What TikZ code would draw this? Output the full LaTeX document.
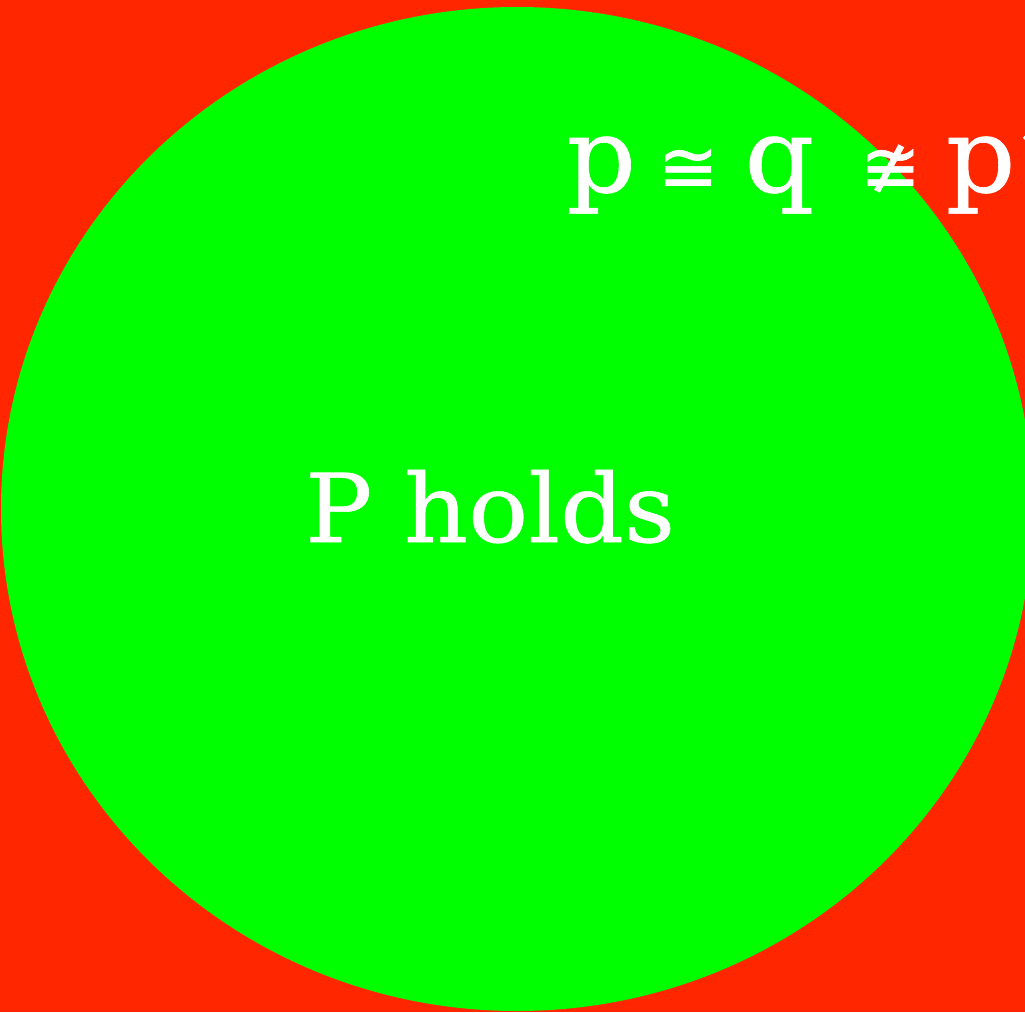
\documentclass[tikz,border=0pt]{standalone}
\usepackage{fontspec}
\setmainfont{DejaVu Serif}[FakeStretch=1.05,FakeBold=0.6]
\newfontfamily\symfont{DejaVu Sans}[FakeBold=0.8]
\usetikzlibrary{positioning}
\definecolor{bgred}{HTML}{FF2600}
\definecolor{disc}{HTML}{00FF00}
\tikzset{
  caption/.style={text=white,inner sep=0pt,anchor=base west}
}
\newcommand{\relsym}[1]{{\symfont\fontsize{72}{72}\selectfont #1}}
\begin{document}
\begin{tikzpicture}[x=1pt,y=-1pt]
\fill[bgred] (0,0) rectangle (1025,1012);
\useasboundingbox (0,0) rectangle (1025,1012);
% the region where P holds
\fill[disc] (517,509) ellipse [x radius=516, y radius=502];
\node[caption,font=\fontsize{95}{95}\selectfont] (holds) at (305,542) {P holds};
\node[caption,font=\fontsize{104}{104}\selectfont] (relation) at (566,192)
  {p\hspace{22pt}\relsym{≅}\hspace{26pt}q\hspace{46pt}\relsym{≇}\hspace{25pt}p’};
\end{tikzpicture}
\end{document}
